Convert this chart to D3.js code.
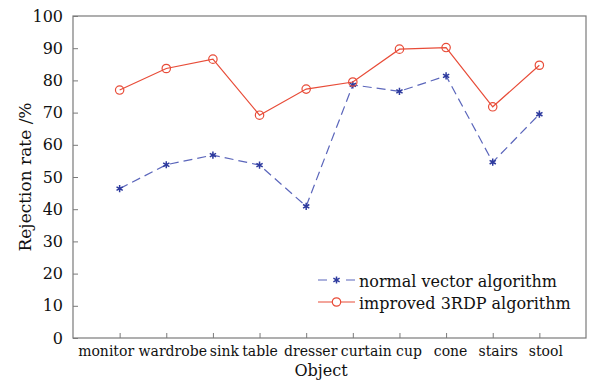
<!DOCTYPE html>
<html>
<head>
<meta charset="utf-8">
<script src="https://cdn.jsdelivr.net/npm/d3@7"></script>
<style>
  body { margin: 0; background: #fff; }
  text { font-family: "DejaVu Serif", serif; fill: #111; }
</style>
</head>
<body>
<svg id="chart" width="589" height="383"></svg>
<script>
// data
const objects = ["monitor", "wardrobe", "sink", "table", "dresser", "curtain", "cup", "cone", "stairs", "stool"];
const normalVector = [46.4, 53.8, 56.8, 53.7, 40.9, 78.6, 76.6, 81.4, 54.6, 69.5];
const improved3RDP = [77.0, 83.7, 86.6, 69.2, 77.3, 79.5, 89.7, 90.2, 71.8, 84.7];
const yTicks = [0, 10, 20, 30, 40, 50, 60, 70, 80, 90, 100];

const svg = d3.select("#chart");
const margin = { left: 73, top: 16, right: 3, bottom: 45 };
const W = 589, H = 383;
const plotW = W - margin.left - margin.right;
const plotH = H - margin.top - margin.bottom;

const blueLine = "#5b66bb", blueMark = "#2d3a9e", red = "#e84c38";

const x = d3.scaleLinear().domain([0, objects.length + 1]).range([0, plotW]);
const y = d3.scaleLinear().domain([0, 100]).range([plotH, 0]);

const g = svg.append("g").attr("transform", `translate(${margin.left},${margin.top})`);

// frame
g.append("rect").attr("width", plotW).attr("height", plotH)
  .attr("fill", "none").attr("stroke", "#7a7a7a").attr("stroke-width", 1.2);

// y axis
const yAxis = g.append("g").call(d3.axisLeft(y).tickValues(yTicks).tickSize(-5).tickPadding(10));
yAxis.select(".domain").remove();
yAxis.selectAll("line").attr("stroke", "#7a7a7a");
yAxis.selectAll("text").style("font-size", "16px").attr("fill", "#111");

// x axis -- labels in the original are spread out a bit so they don't collide
const labelShift = [-14, 6, 11, 0, 4, 13, 9, 4, 5, 6];
const xAxis = g.append("g").attr("transform", `translate(0,${plotH})`)
  .call(d3.axisBottom(x).tickValues(d3.range(1, objects.length + 1))
    .tickFormat(i => objects[i - 1]).tickSize(-5).tickPadding(8));
xAxis.select(".domain").remove();
xAxis.selectAll("line").attr("stroke", "#7a7a7a");
xAxis.selectAll("text").style("font-size", "14px").attr("fill", "#111")
  .attr("dx", (d, i) => labelShift[i]);

// axis titles
svg.append("text").attr("x", 321).attr("y", 376)
  .attr("text-anchor", "middle").style("font-size", "16px").text("Object");
svg.append("text").attr("transform", `translate(31,${margin.top + plotH / 2}) rotate(-90)`)
  .attr("text-anchor", "middle").style("font-size", "17px").text("Rejection rate /%");

const line = d3.line().x((d, i) => x(i + 1)).y(d => y(d));
const asterisk = d3.symbol().type(d3.symbolAsterisk).size(36);

// normal vector algorithm
g.append("path").datum(normalVector).attr("d", line)
  .attr("fill", "none").attr("stroke", blueLine).attr("stroke-width", 1.2)
  .attr("stroke-dasharray", "9,5");
g.selectAll(".ast").data(normalVector).join("path").attr("class", "ast")
  .attr("transform", (d, i) => `translate(${x(i + 1)},${y(d)})`)
  .attr("d", asterisk).attr("fill", "none").attr("stroke", blueMark).attr("stroke-width", 1.5);

// improved 3RDP algorithm
g.append("path").datum(improved3RDP).attr("d", line)
  .attr("fill", "none").attr("stroke", red).attr("stroke-width", 1.2);
g.selectAll(".circ").data(improved3RDP).join("circle").attr("class", "circ")
  .attr("cx", (d, i) => x(i + 1)).attr("cy", d => y(d)).attr("r", 4.2)
  .attr("fill", "none").attr("stroke", red).attr("stroke-width", 1.2);

// legend
const legend = svg.append("g").attr("transform", "translate(318,280)");
legend.append("line").attr("x1", 0).attr("x2", 37).attr("y1", 0).attr("y2", 0)
  .attr("stroke", blueLine).attr("stroke-width", 1.2).attr("stroke-dasharray", "9,19");
legend.append("path").attr("transform", "translate(18.5,0)")
  .attr("d", asterisk).attr("fill", "none").attr("stroke", blueMark).attr("stroke-width", 1.5);
legend.append("text").attr("x", 41).attr("y", 6.5).style("font-size", "16px").text("normal vector algorithm");
legend.append("line").attr("x1", 0).attr("x2", 37).attr("y1", 22).attr("y2", 22)
  .attr("stroke", red).attr("stroke-width", 1.2);
legend.append("circle").attr("cx", 18.5).attr("cy", 22).attr("r", 4.2)
  .attr("fill", "#fff").attr("stroke", red).attr("stroke-width", 1.2);
legend.append("text").attr("x", 41).attr("y", 28.5).style("font-size", "16px").text("improved 3RDP algorithm");
</script>
</body>
</html>
